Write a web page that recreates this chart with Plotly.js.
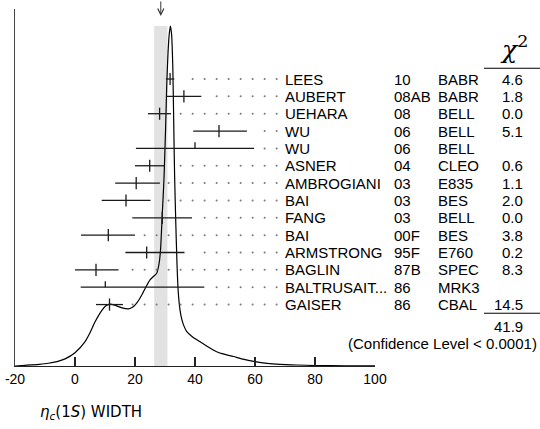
<!DOCTYPE html>
<html>
<head>
<meta charset="utf-8">
<script src="https://cdn.plot.ly/plotly-3.0.1.min.js"></script>
<style>html,body{margin:0;padding:0;background:#fff;}#chart{width:540px;height:429px;}</style>
</head>
<body>
<div id="chart"></div>
<script>
// ---- data ----
const names = ["LEES","AUBERT","UEHARA","WU","WU","ASNER","AMBROGIANI","BAI","FANG","BAI","ARMSTRONG","BAGLIN","BALTRUSAIT...","GAISER"];
const years = ["10","08AB","08","06","06","04","03","03","03","00F","95F","87B","86","86"];
const experiments = ["BABR","BABR","BELL","BELL","BELL","CLEO","E835","BES","BELL","BES","E760","SPEC","MRK3","CBAL"];
const chi2Labels = ["4.6","1.8","0.0","5.1","","0.6","1.1","2.0","0.0","3.8","0.2","8.3","","14.5"];
const values = [31.7, 36.3, 28.2, 48.0, 40.0, 24.9, 20.4, 17.0, 29.1, 11.1, 23.9, 7.0, 10.1, 11.5];
const errPlus = [1.4, 5.8, 3.8, 9.3, 19.7, 4.9, 7.9, 8.2, 9.9, 8.9, 12.6, 7.5, 33.0, 4.5];
const errMinus = [1.4, 5.8, 3.9, 8.6, 19.7, 4.9, 7.0, 8.1, 10.0, 9.1, 7.1, 7.0, 8.2, 4.5];
const usedInFit = [true,true,true,true,false,true,true,true,true,true,true,true,false,true];
const chi2Total = "41.9";
const confidenceText = "(Confidence Level < 0.0001)";
const fitValue = 28.6;
const fitError = 2.2;
const xTicks = [-20, 0, 20, 40, 60, 80, 100];
const curveX = [-20,-16.7,-12,-8.9,-6,-3.3,0,3.3,5,6.7,8.9,10.3,11.7,13,14.4,16,17.8,19,20,21.5,22.8,24,25,26.2,27.2,28,28.5,29.1,29.4,29.7,30.2,30.6,31.0,31.4,31.8,32.2,32.6,32.9,33.2,33.6,34.0,34.4,35.0,35.6,36.3,37.2,39,41.7,44,47.2,50,52.8,56,60,64,68.3,74,80,90,100];
const curveY = [0.000,0.002,0.005,0.008,0.013,0.021,0.039,0.071,0.098,0.130,0.163,0.177,0.182,0.180,0.175,0.170,0.168,0.172,0.179,0.197,0.218,0.238,0.253,0.264,0.272,0.300,0.340,0.450,0.500,0.560,0.700,0.830,0.920,0.975,1.000,0.975,0.880,0.720,0.560,0.420,0.300,0.220,0.165,0.137,0.118,0.102,0.087,0.071,0.058,0.042,0.034,0.028,0.020,0.013,0.008,0.005,0.003,0.0015,0.0005,0.0002];
const titleText = "<i>η</i><sub><i>c</i></sub>(1<i>S</i>) WIDTH";

// ---- layout helpers ----
const rows = names.map((_, i) => i);
const L = 15, R = 375; // plot left/right px
const px = p => (p - L) / (R - L);
const FONT = "Liberation Sans, Arial, sans-serif";
const tickHalf = usedInFit.map(u => u ? 0.35 : 0);
const tickUp = usedInFit.map(() => 0.35);

// leader dots
const dotX = [], dotY = [];
rows.forEach(i => {
  const hi = values[i] + errPlus[i];
  for (let g = 67.2; g > -20; g -= 4) {
    if (g - hi >= 2.75) { dotX.push(g); dotY.push(i); }
  }
});

const traces = [
  {x: curveX, y: curveY, type: 'scatter', mode: 'lines',
   line: {color: '#000', width: 1.2, shape: 'spline', smoothing: 0.6}, hoverinfo: 'skip'},
  {x: dotX, y: dotY, yaxis: 'y2', type: 'scatter', mode: 'markers',
   marker: {size: 2, color: '#777'}, hoverinfo: 'skip'},
  {x: values, y: rows, yaxis: 'y2', type: 'scatter', mode: 'markers',
   marker: {size: 1, opacity: 0},
   error_x: {type: 'data', symmetric: false, array: errPlus, arrayminus: errMinus, width: 0, color: '#1a1a1a', thickness: 1.3},
   error_y: {type: 'data', symmetric: false, array: tickHalf, arrayminus: tickUp, width: 0, color: '#1a1a1a', thickness: 1.3},
   hoverinfo: 'skip'}
];

const ann = [];
rows.forEach(i => {
  const base = {xref: 'paper', yref: 'y2', y: i, yanchor: 'middle', showarrow: false, font: {family: FONT, size: 15, color: '#000'}};
  ann.push(Object.assign({}, base, {x: px(283), xanchor: 'left', text: names[i]}));
  ann.push(Object.assign({}, base, {x: px(392), xanchor: 'left', text: years[i]}));
  ann.push(Object.assign({}, base, {x: px(436), xanchor: 'left', text: experiments[i]}));
  if (chi2Labels[i]) ann.push(Object.assign({}, base, {x: px(525), xanchor: 'right', text: chi2Labels[i]}));
});
ann.push({xref: 'paper', yref: 'y2', x: px(525), y: 14.29, xanchor: 'right', yanchor: 'middle', showarrow: false,
  text: chi2Total, font: {family: FONT, size: 15, color: '#000'}});
ann.push({xref: 'paper', yref: 'y2', x: px(539), y: 15.27, xanchor: 'right', yanchor: 'middle', showarrow: false,
  text: confidenceText, font: {family: FONT, size: 15, color: '#000'}});
ann.push({xref: 'paper', yref: 'y2', x: px(514), y: -1.8, xanchor: 'center', yanchor: 'middle', showarrow: false,
  text: "<i>χ</i><sup>2</sup>", font: {family: "DejaVu Serif, serif", size: 25, color: '#000'}});
ann.push({xref: 'paper', yref: 'paper', x: px(38), y: (366 - 412) / 357, xanchor: 'left', yanchor: 'middle', showarrow: false,
  text: titleText, font: {family: "DejaVu Sans, sans-serif", size: 15, color: '#000'}});
ann.push({xref: 'x', yref: 'paper', x: fitValue, y: (366 - 16) / 357, showarrow: true, ax: 0, ay: -16,
  arrowhead: 5, arrowsize: 1.2, arrowwidth: 1, arrowcolor: '#333', text: ''});

const shapes = [
  {type: 'rect', xref: 'x', yref: 'y', x0: fitValue - fitError, x1: fitValue + fitError, y0: 0, y1: 1,
   fillcolor: '#e2e2e2', line: {width: 0}, layer: 'below'},
  {type: 'line', xref: 'paper', yref: 'y2', x0: px(484), x1: px(540), y0: -0.62, y1: -0.62, line: {color: '#000', width: 1}},
  {type: 'line', xref: 'paper', yref: 'y2', x0: px(484), x1: px(540), y0: 13.5, y1: 13.5, line: {color: '#000', width: 1}}
];

const layout = {
  width: 540, height: 429,
  margin: {l: L, r: 540 - R, t: 9, b: 63, pad: 0},
  paper_bgcolor: '#fff', plot_bgcolor: '#fff',
  showlegend: false,
  xaxis: {range: [-20, 100], tickvals: xTicks, ticktext: xTicks.map(String), ticks: 'inside', ticklen: 9, tickwidth: 1.2, tickcolor: '#222',
          showline: true, linecolor: '#222', linewidth: 1.3, showgrid: false, zeroline: false,
          tickfont: {family: FONT, size: 14, color: '#000'}, fixedrange: true},
  yaxis: {range: [0, 1.05], showline: true, linecolor: '#444', linewidth: 1.3, ticks: '', showticklabels: false,
          showgrid: false, zeroline: false, fixedrange: true},
  yaxis2: {range: [16.541, -4.035], overlaying: 'y', visible: false, fixedrange: true},
  annotations: ann,
  shapes: shapes
};

Plotly.newPlot('chart', traces, layout, {displayModeBar: false, staticPlot: true});
</script>
</body>
</html>
